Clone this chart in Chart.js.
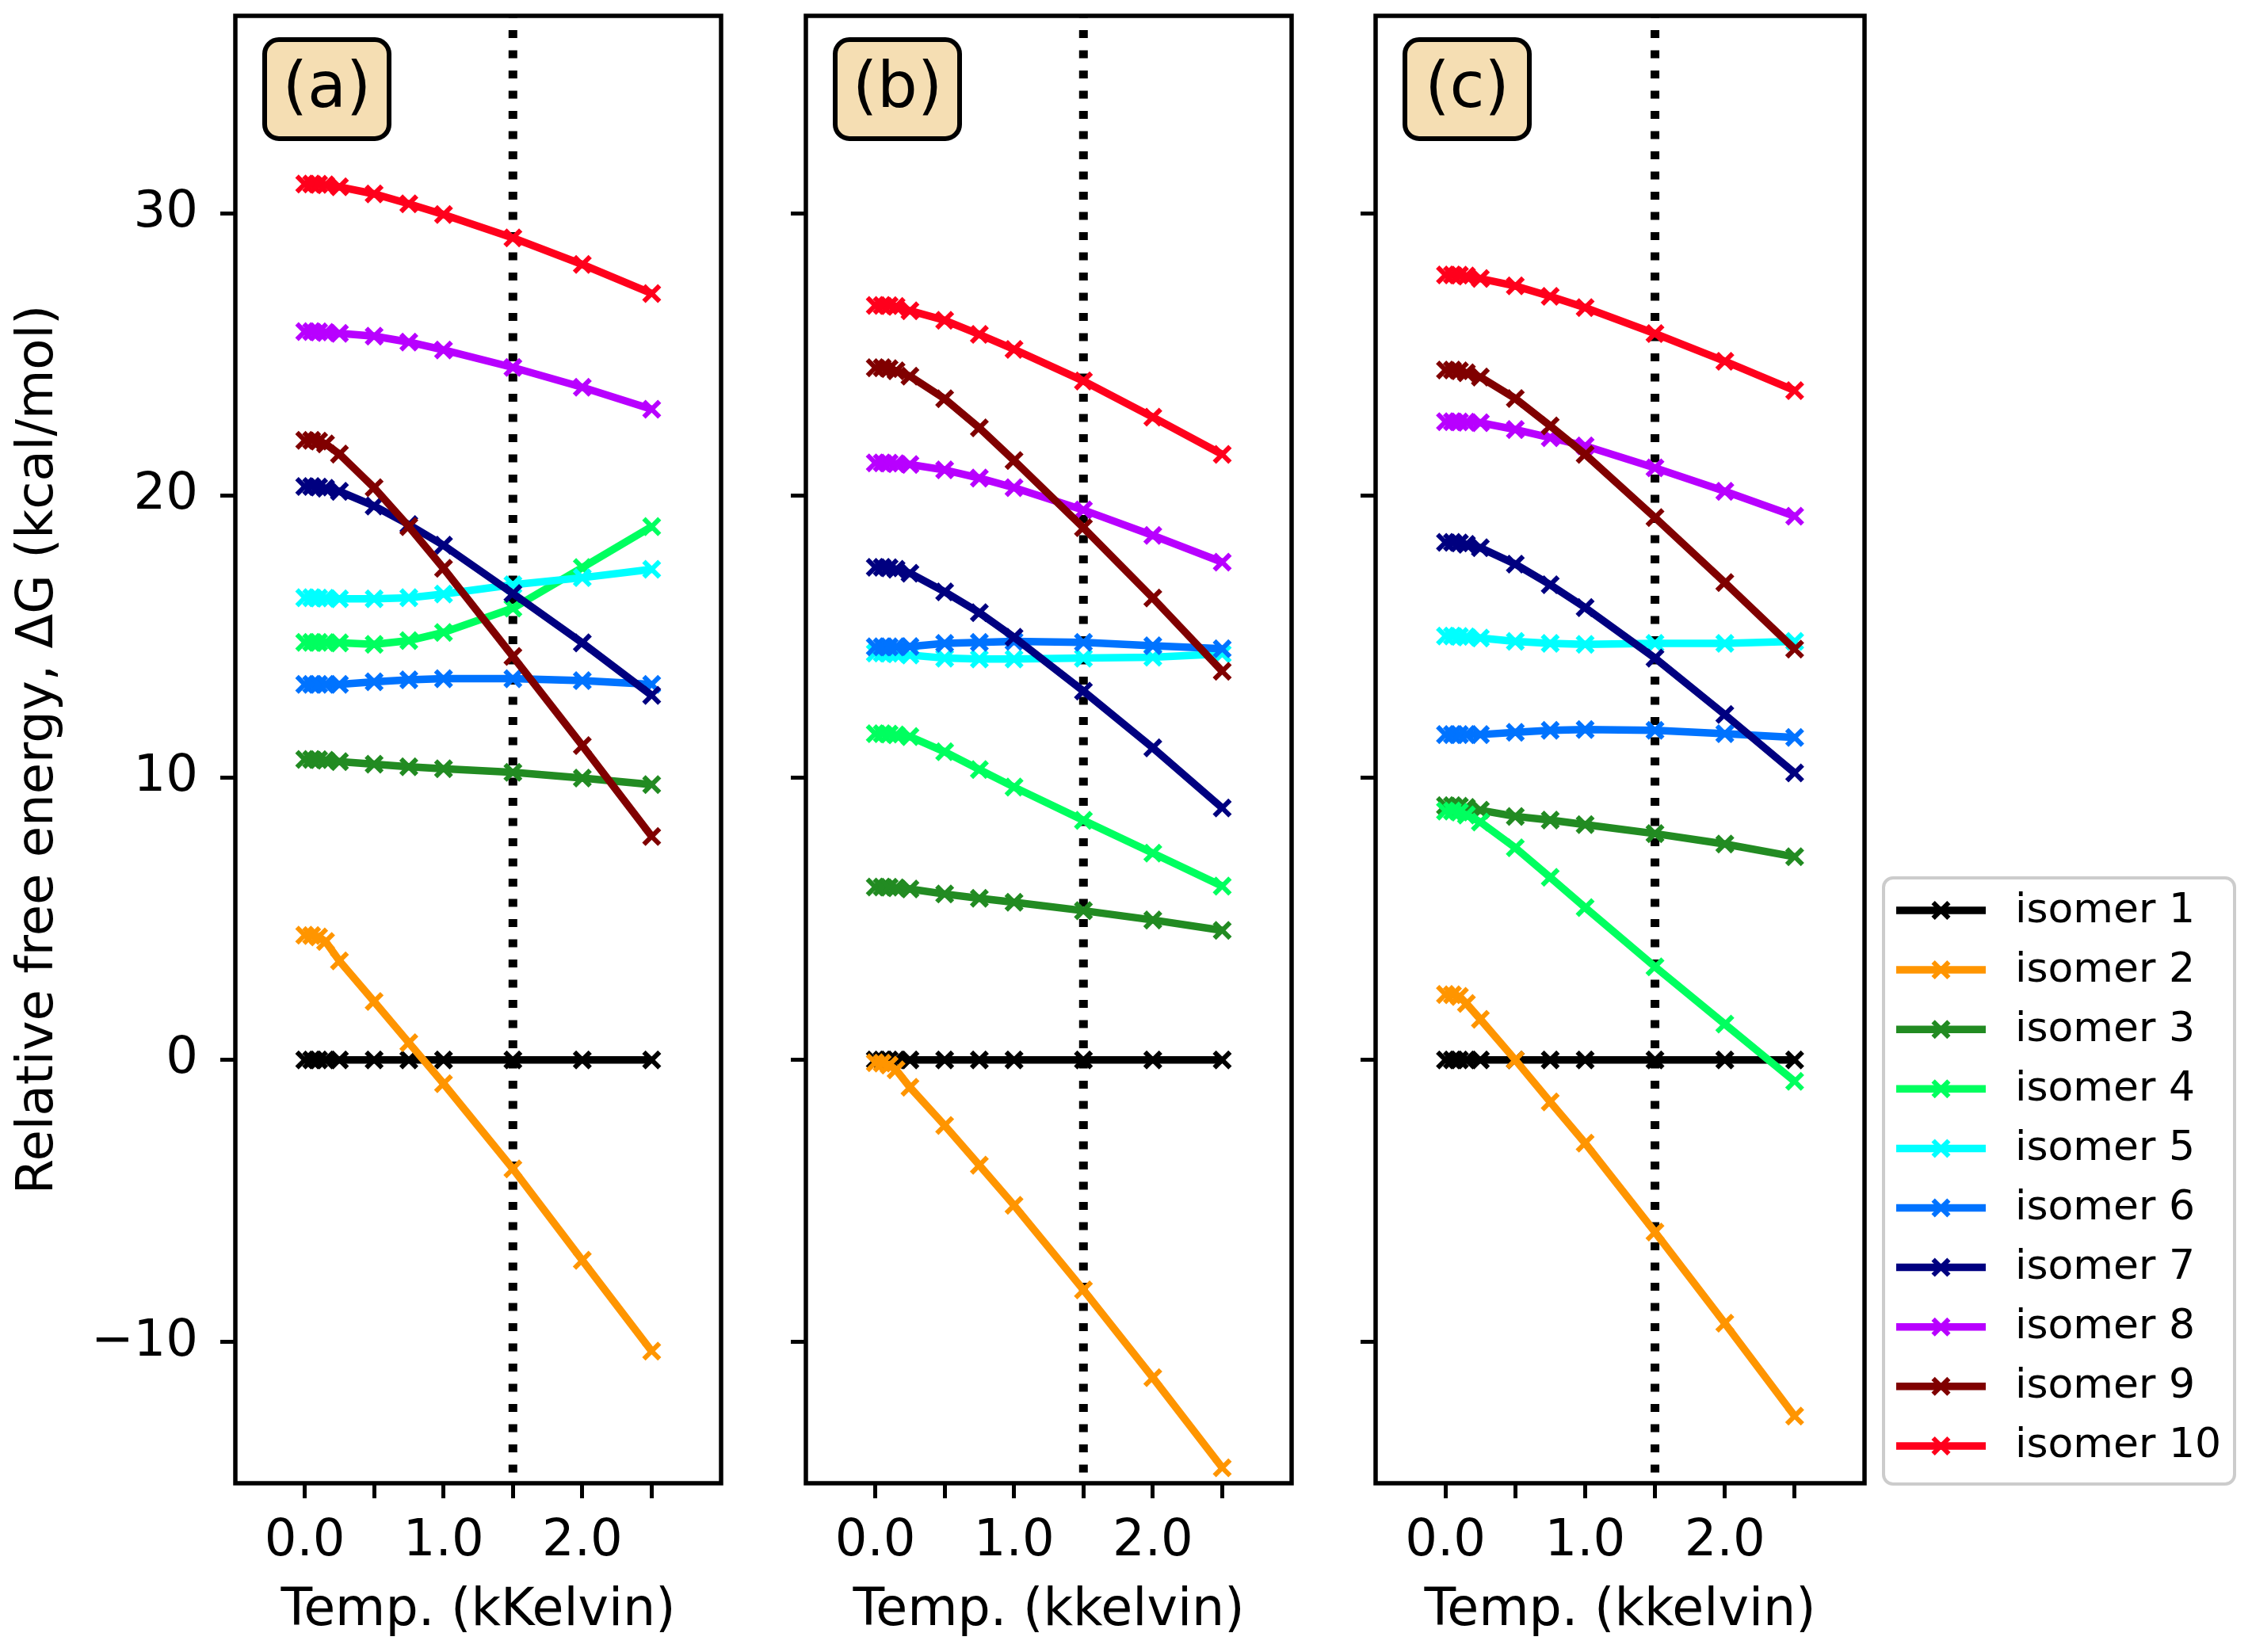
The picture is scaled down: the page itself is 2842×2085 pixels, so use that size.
<!DOCTYPE html>
<html>
<head>
<meta charset="utf-8">
<script src="https://cdn.jsdelivr.net/npm/chart.js@4.4.1/dist/chart.umd.min.js"></script>
<style>
  html, body { margin: 0; padding: 0; background: #fff; }
  #page { position: relative; width: 2842px; height: 2085px; overflow: hidden; background: #fff; }
  canvas { position: absolute; top: 0; }
</style>
</head>
<body>
<div id="page">
  <canvas id="panelA" width="930" height="2085" style="left:0px"></canvas>
  <canvas id="panelB" width="710" height="2085" style="left:940px"></canvas>
  <canvas id="panelC" width="1182" height="2085" style="left:1660px"></canvas>
</div>
<script>
// temperatures (kK) where the free energies were evaluated
const temps = [0.0, 0.05, 0.1, 0.15, 0.25, 0.5, 0.75, 1.0, 1.5, 2.0, 2.5];
const markT = 1.5;

const xTickVals = [0.0, 0.5, 1.0, 1.5, 2.0, 2.5];
const xTickLabels = ['0.0', '', '1.0', '', '2.0', ''];
const yTickVals = [-10, 0, 10, 20, 30];
const yTickLabels = ['\u221210', '0', '10', '20', '30'];

const isomerNames = ['isomer 1', 'isomer 2', 'isomer 3', 'isomer 4', 'isomer 5',
                     'isomer 6', 'isomer 7', 'isomer 8', 'isomer 9', 'isomer 10'];
const isomerColors = ['#000000', '#ff9500', '#228b22', '#00ff5f', '#00ffff',
                      '#0073ff', '#000080', '#b800ff', '#800000', '#ff001c'];

// panel (a), one row per isomer
const dGa = [
  [0, 0, 0, 0, 0, 0, 0, 0, 0, 0, 0],
  [4.42, 4.41, 4.36, 4.20, 3.51, 2.07, 0.61, -0.84, -3.86, -7.10, -10.32],
  [10.65, 10.65, 10.64, 10.62, 10.57, 10.48, 10.39, 10.32, 10.19, 9.99, 9.76],
  [14.80, 14.80, 14.80, 14.79, 14.78, 14.73, 14.86, 15.15, 16.01, 17.45, 18.90],
  [16.38, 16.38, 16.37, 16.36, 16.34, 16.34, 16.38, 16.51, 16.84, 17.09, 17.39],
  [13.31, 13.31, 13.31, 13.31, 13.31, 13.40, 13.47, 13.51, 13.51, 13.44, 13.31],
  [20.32, 20.32, 20.30, 20.26, 20.15, 19.63, 18.97, 18.24, 16.53, 14.78, 12.92],
  [25.81, 25.81, 25.80, 25.78, 25.75, 25.65, 25.44, 25.16, 24.54, 23.84, 23.06],
  [21.96, 21.96, 21.93, 21.83, 21.47, 20.28, 18.90, 17.42, 14.30, 11.14, 7.92],
  [31.04, 31.04, 31.03, 31.01, 30.94, 30.69, 30.34, 29.96, 29.13, 28.19, 27.16]
];

// panel (b)
const dGb = [
  [0, 0, 0, 0, 0, 0, 0, 0, 0, 0, 0],
  [-0.10, -0.11, -0.18, -0.35, -0.97, -2.32, -3.73, -5.15, -8.15, -11.26, -14.45],
  [6.13, 6.13, 6.12, 6.10, 6.06, 5.88, 5.73, 5.59, 5.29, 4.96, 4.59],
  [11.56, 11.56, 11.55, 11.52, 11.46, 10.92, 10.29, 9.67, 8.49, 7.33, 6.16],
  [14.42, 14.42, 14.41, 14.39, 14.35, 14.24, 14.21, 14.21, 14.24, 14.27, 14.39],
  [14.64, 14.64, 14.64, 14.64, 14.65, 14.76, 14.80, 14.83, 14.80, 14.68, 14.57],
  [17.46, 17.46, 17.44, 17.39, 17.25, 16.59, 15.85, 14.98, 13.07, 11.06, 8.93],
  [21.16, 21.16, 21.15, 21.13, 21.10, 20.91, 20.62, 20.28, 19.49, 18.59, 17.64],
  [24.53, 24.53, 24.50, 24.42, 24.23, 23.43, 22.40, 21.24, 18.86, 16.37, 13.77],
  [26.74, 26.74, 26.73, 26.70, 26.55, 26.21, 25.71, 25.18, 24.06, 22.78, 21.46]
];

// panel (c)
const dGc = [
  [0, 0, 0, 0, 0, 0, 0, 0, 0, 0, 0],
  [2.32, 2.31, 2.25, 2.00, 1.44, 0.00, -1.49, -2.95, -6.10, -9.33, -12.62],
  [9.01, 9.01, 8.99, 8.95, 8.85, 8.63, 8.50, 8.34, 8.02, 7.65, 7.20],
  [8.82, 8.82, 8.78, 8.68, 8.43, 7.52, 6.47, 5.40, 3.30, 1.27, -0.76],
  [15.02, 15.02, 15.01, 14.99, 14.95, 14.83, 14.76, 14.73, 14.76, 14.76, 14.83],
  [11.53, 11.53, 11.53, 11.53, 11.53, 11.61, 11.68, 11.71, 11.68, 11.56, 11.43],
  [18.34, 18.34, 18.32, 18.27, 18.15, 17.57, 16.84, 16.03, 14.24, 12.24, 10.17],
  [22.62, 22.62, 22.61, 22.60, 22.58, 22.34, 22.05, 21.76, 20.98, 20.15, 19.27],
  [24.45, 24.45, 24.42, 24.35, 24.20, 23.44, 22.47, 21.46, 19.22, 16.92, 14.56],
  [27.82, 27.82, 27.81, 27.78, 27.69, 27.43, 27.06, 26.66, 25.74, 24.76, 23.72]
];

Chart.defaults.font.family = "'DejaVu Sans', sans-serif";
Chart.defaults.color = '#000';

const LINE_W = 9.5;
const MARK_R = 14;
const MARK_W = 6;

function roundRectPath(ctx, x, y, w, h, r) {
  ctx.beginPath();
  ctx.moveTo(x + r, y);
  ctx.lineTo(x + w - r, y);
  ctx.arcTo(x + w, y, x + w, y + r, r);
  ctx.lineTo(x + w, y + h - r);
  ctx.arcTo(x + w, y + h, x + w - r, y + h, r);
  ctx.lineTo(x + r, y + h);
  ctx.arcTo(x, y + h, x, y + h - r, r);
  ctx.lineTo(x, y + r);
  ctx.arcTo(x, y, x + r, y, r);
  ctx.closePath();
}

function drawCross(ctx, x, y, color) {
  ctx.strokeStyle = color;
  ctx.fillStyle = color;
  ctx.lineWidth = MARK_W;
  ctx.setLineDash([]);
  if (Chart.helpers && Chart.helpers.drawPoint) {
    Chart.helpers.drawPoint(ctx, {pointStyle: 'crossRot', radius: MARK_R, borderWidth: MARK_W, rotation: 0}, x, y);
  } else {
    const d = MARK_R * Math.SQRT1_2;
    ctx.beginPath();
    ctx.moveTo(x - d, y - d); ctx.lineTo(x + d, y + d);
    ctx.moveTo(x - d, y + d); ctx.lineTo(x + d, y - d);
    ctx.stroke();
  }
}

// dotted marker line, axes frame and the (a)/(b)/(c) tag
const panelDecor = {
  id: 'panelDecor',
  beforeDatasetsDraw(chart) {
    const {ctx, chartArea: a} = chart;
    const px = chart.scales.x.getPixelForValue(markT);
    ctx.save();
    ctx.strokeStyle = '#000';
    ctx.lineWidth = 11;
    ctx.lineCap = 'butt';
    ctx.setLineDash([10, 15.5]);
    ctx.lineDashOffset = 7.5;
    ctx.beginPath();
    ctx.moveTo(px, a.top);
    ctx.lineTo(px, a.bottom);
    ctx.stroke();
    ctx.restore();
  },
  afterDatasetsDraw(chart, args, opts) {
    const {ctx, chartArea: a} = chart;
    ctx.save();
    ctx.setLineDash([]);
    ctx.strokeStyle = '#000';
    ctx.lineWidth = 5.5;
    ctx.lineJoin = 'miter';
    ctx.strokeRect(a.left, a.top, a.right - a.left, a.bottom - a.top);

    const bx = a.left + 37, by = a.top + 30, bw = 157, bh = 125;
    roundRectPath(ctx, bx, by, bw, bh, 18);
    ctx.fillStyle = '#f5deb3';
    ctx.fill();
    ctx.lineWidth = 6;
    ctx.stroke();
    ctx.fillStyle = '#000';
    ctx.font = "80px 'DejaVu Sans'";
    ctx.textAlign = 'center';
    ctx.textBaseline = 'middle';
    ctx.fillText(opts.tag, bx + bw / 2, by + bh / 2 + 2);
    ctx.restore();
  }
};

// legend drawn to the right of panel (c)
const sideLegend = {
  id: 'sideLegend',
  afterDraw(chart, args, o) {
    if (!o || !o.show) return;
    const ctx = chart.ctx;
    ctx.save();
    roundRectPath(ctx, o.x, o.y, o.w, o.h, 12);
    ctx.fillStyle = 'rgba(255,255,255,0.8)';
    ctx.fill();
    ctx.strokeStyle = '#cccccc';
    ctx.lineWidth = 4;
    ctx.stroke();
    chart.data.datasets.forEach((ds, i) => {
      const yy = o.firstRow + i * o.rowGap;
      ctx.strokeStyle = ds.borderColor;
      ctx.lineWidth = LINE_W;
      ctx.lineCap = 'butt';
      ctx.beginPath();
      ctx.moveTo(o.lineX0, yy);
      ctx.lineTo(o.lineX1, yy);
      ctx.stroke();
      drawCross(ctx, (o.lineX0 + o.lineX1) / 2, yy, ds.borderColor);
      ctx.fillStyle = '#000';
      ctx.font = "52px 'DejaVu Sans'";
      ctx.textAlign = 'left';
      ctx.textBaseline = 'middle';
      ctx.fillText(ds.label, o.textX, yy + 1);
    });
    ctx.restore();
  }
};

function makeSets(rows) {
  return rows.map((ys, i) => ({
    label: isomerNames[i],
    data: temps.map((t, k) => ({x: t, y: ys[k]})),
    borderColor: isomerColors[i],
    backgroundColor: isomerColors[i],
    borderWidth: LINE_W,
    pointStyle: 'crossRot',
    pointRadius: MARK_R,
    pointHoverRadius: MARK_R,
    pointBorderWidth: MARK_W,
    pointBorderColor: isomerColors[i],
    pointBackgroundColor: isomerColors[i],
    tension: 0,
    order: rows.length - 1 - i   // later isomers on top, as in the original
  }));
}

function makePanel(id, rows, cfg) {
  const ctx = document.getElementById(id).getContext('2d');
  return new Chart(ctx, {
    type: 'line',
    data: {datasets: makeSets(rows)},
    options: {
      responsive: false,
      animation: false,
      events: [],
      layout: {padding: {top: 18, right: cfg.padRight, bottom: 0, left: 0}},
      plugins: {
        legend: {display: false},
        tooltip: {enabled: false},
        panelDecor: {tag: cfg.tag},
        sideLegend: cfg.legend || {show: false}
      },
      scales: {
        x: {
          type: 'linear',
          min: -0.5,
          max: 3.0,
          afterBuildTicks: s => { s.ticks = xTickVals.map(v => ({value: v})); },
          afterFit: s => { s.height = 213; s.paddingLeft = 0; s.paddingRight = 0; },
          grid: {display: true, drawOnChartArea: false, drawTicks: true,
                 tickLength: 19, tickWidth: 5, tickColor: '#000', color: '#000'},
          border: {display: false},
          ticks: {autoSkip: false, maxRotation: 0, minRotation: 0, padding: 17,
                  font: {size: 64}, color: '#000',
                  callback: (v, i) => xTickLabels[i]},
          title: {display: true, text: cfg.xTitle, font: {size: 65}, color: '#000',
                  padding: {top: 0, bottom: 12}}
        },
        y: {
          type: 'linear',
          min: -15,
          max: 37,
          afterBuildTicks: s => { s.ticks = yTickVals.map(v => ({value: v})); },
          afterFit: s => { s.width = cfg.yWidth; s.paddingTop = 0; s.paddingBottom = 0; },
          grid: {display: true, drawOnChartArea: false, drawTicks: true,
                 tickLength: 19, tickWidth: 5, tickColor: '#000', color: '#000'},
          border: {display: false},
          ticks: {autoSkip: false, padding: 28, font: {size: 64}, color: '#000',
                  callback: (v, i) => cfg.yLabels ? yTickLabels[i] : ''},
          title: {display: cfg.yLabels, text: 'Relative free energy, \u0394G (kcal/mol)',
                  font: {size: 64}, color: '#000', padding: {top: 11, bottom: 0}}
        }
      }
    },
    plugins: [panelDecor, sideLegend]
  });
}

makePanel('panelA', dGa, {tag: '(a)', xTitle: 'Temp. (kKelvin)', yWidth: 297, padRight: 15, yLabels: true});
makePanel('panelB', dGb, {tag: '(b)', xTitle: 'Temp. (kkelvin)', yWidth: 77, padRight: 16, yLabels: false});
makePanel('panelC', dGc, {tag: '(c)', xTitle: 'Temp. (kkelvin)', yWidth: 76, padRight: 489, yLabels: false,
  legend: {show: true, x: 717, y: 1108, w: 443, h: 765,
           lineX0: 733, lineX1: 846, textX: 883, firstRow: 1149, rowGap: 75.1}});
</script>
</body>
</html>
